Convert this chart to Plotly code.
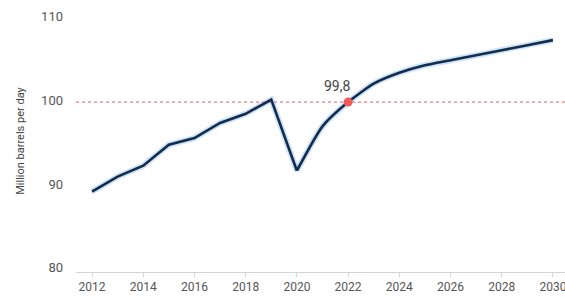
import plotly.graph_objects as go

years = list(range(2012, 2031))
demand = [89.1, 90.9, 92.2, 94.7, 95.5, 97.3, 98.4, 100.1, 91.6, 96.9, 99.8,
          102.0, 103.3, 104.2, 104.8, 105.4, 106.0, 106.6, 107.2]
ref_level = 99.8
highlight_year = 2022
highlight_label = "99,8"
x_ticks = list(range(2012, 2031, 2))
y_ticks = [80, 90, 100, 110]

FONT = "Roboto, sans-serif"
LINE = "#0f2d4f"
GLOW = "rgba(120,170,225,0.35)"
RED = "#f0585a"

split = years.index(2020)
hist_x, hist_y = years[:split + 1], demand[:split + 1]
fc_x, fc_y = years[split:], demand[split:]

fig = go.Figure()
for xs, ys, shape in [(hist_x, hist_y, "linear"), (fc_x, fc_y, "spline")]:
    fig.add_trace(go.Scatter(x=xs, y=ys, mode="lines",
                             line=dict(color=GLOW, width=6, shape=shape, smoothing=0.6),
                             hoverinfo="skip", showlegend=False))
for xs, ys, shape in [(hist_x, hist_y, "linear"), (fc_x, fc_y, "spline")]:
    fig.add_trace(go.Scatter(x=xs, y=ys, mode="lines",
                             line=dict(color=LINE, width=2.6, shape=shape, smoothing=0.6),
                             showlegend=False))

fig.add_hline(y=ref_level, line=dict(color=RED, width=1, dash="dot"), layer="below")

hi = years.index(highlight_year)
fig.add_trace(go.Scatter(x=[highlight_year], y=[demand[hi]], mode="markers",
                         marker=dict(color=RED, size=9), showlegend=False))
fig.add_annotation(x=highlight_year, y=demand[hi], text=highlight_label,
                   showarrow=False, xshift=-11, yshift=16,
                   font=dict(family=FONT, size=14, color="#444444"))

fig.update_layout(
    width=565, height=298,
    margin=dict(l=76, r=0, t=10, b=26),
    paper_bgcolor="white", plot_bgcolor="white",
    font=dict(family=FONT, size=12, color="#555555"),
    xaxis=dict(range=[2011.375, 2030.47], tickvals=x_ticks,
               showgrid=False, zeroline=False, automargin=False,
               showline=True, linecolor="#d4d4d4", linewidth=1,
               ticks="outside", ticklen=4, tickcolor="#d4d4d4",
               ticklabeloverflow="allow",
               tickfont=dict(family=FONT, size=12, color="#555555")),
    yaxis=dict(range=[79.5, 110.8], tickvals=y_ticks,
               showgrid=False, zeroline=False, showline=False,
               automargin=False,
               ticks="", ticklabelstandoff=12,
               title=dict(text="Million barrels per day", standoff=14,
                          font=dict(family=FONT, size=11, color="#444444")),
               tickfont=dict(family=FONT, size=13, color="#555555")),
)

fig.write_html("out.html", config={"displayModeBar": False},
               post_script="document.body.style.margin='0';document.body.style.padding='0';")
